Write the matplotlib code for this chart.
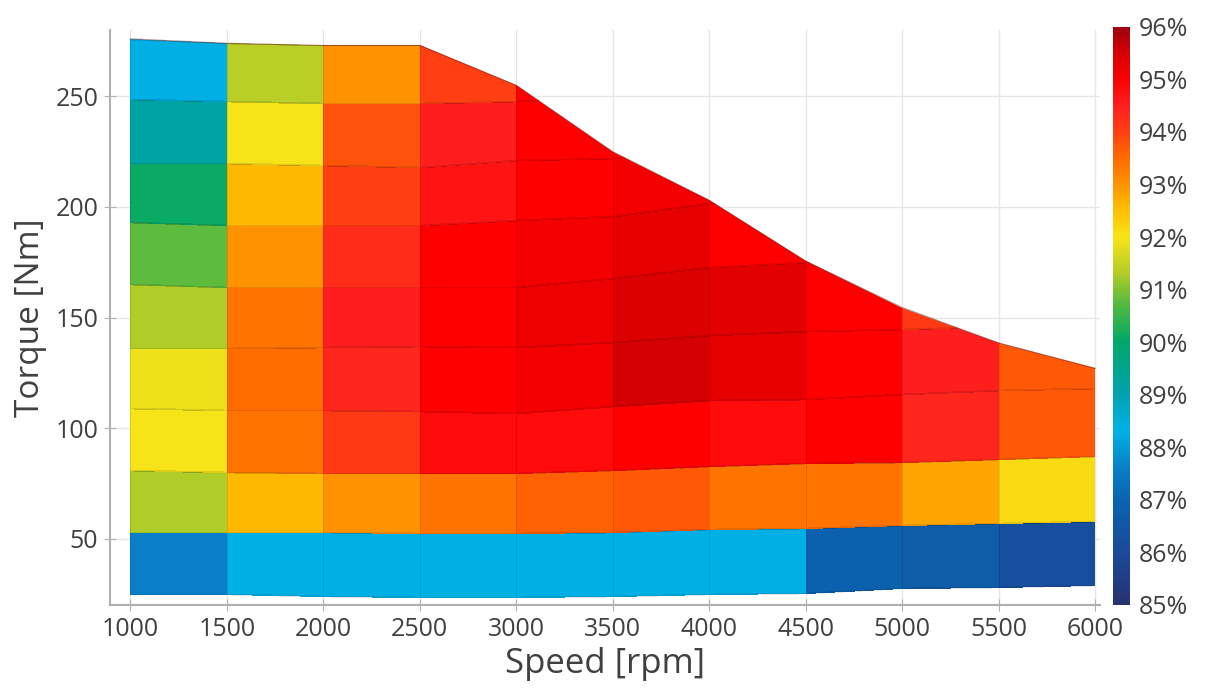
import matplotlib.pyplot as plt
import numpy as np
from matplotlib.colors import LinearSegmentedColormap
from matplotlib.patches import Polygon

plt.rcParams['font.family'] = ['Open Sans', 'DejaVu Sans']

# speed grid [rpm]
speeds = np.array([1000, 1500, 2000, 2500, 3000, 3500, 4000, 4500, 5000, 5500, 6000])

# maximum torque envelope [Nm] at each speed
t_max = np.array([276, 274, 273, 273, 255, 225, 203, 175.5, 154.5, 138.5, 127])

# torque nodes [Nm] at each speed (bottom -> top)
t_nodes = np.array([
    [25.0, 53.0, 81.0, 109.0, 136.0, 165.0, 193.0, 220.0, 249.0, 276.0],
    [25.0, 53.0, 80.0, 108.0, 136.0, 164.0, 192.0, 220.0, 248.0, 274.0],
    [24.0, 53.0, 79.5, 108.0, 136.5, 164.0, 192.0, 219.0, 247.0, 273.0],
    [23.5, 52.5, 79.5, 107.5, 137.0, 164.0, 192.0, 218.0, 247.0, 273.0],
    [23.5, 52.5, 79.5, 107.0, 136.5, 164.0, 194.0, 221.0, 248.0, 275.0],
    [24.0, 53.0, 81.0, 110.0, 139.0, 168.0, 196.0, 222.0, 250.0, 278.0],
    [25.0, 54.5, 83.0, 112.5, 142.0, 173.0, 202.0, 228.0, 255.0, 282.0],
    [25.5, 55.0, 84.0, 113.0, 144.0, 175.0, 205.0, 232.0, 260.0, 288.0],
    [27.5, 56.0, 84.5, 115.5, 145.0, 176.0, 207.0, 235.0, 263.0, 290.0],
    [28.0, 57.0, 86.0, 117.0, 146.0, 177.0, 208.0, 236.0, 264.0, 292.0],
    [29.0, 58.0, 87.5, 118.0, 147.0, 178.0, 209.0, 238.0, 266.0, 294.0],
])

# efficiency [%] per cell, one row per speed band (bottom -> top)
eff = np.array([
    [87.6, 91.3, 92.0, 91.9, 91.3, 90.8, 90.1, 89.2, 88.3],
    [88.3, 92.6, 93.4, 93.5, 93.4, 93.0, 92.6, 92.0, 91.4],
    [88.3, 93.0, 94.1, 94.4, 94.5, 94.3, 94.0, 93.8, 93.0],
    [88.3, 93.4, 94.8, 95.0, 95.0, 95.0, 94.7, 94.5, 94.0],
    [88.3, 93.6, 94.8, 95.1, 95.2, 95.1, 95.0, 95.0, 95.0],
    [88.3, 93.7, 95.0, 95.5, 95.4, 95.3, 95.1, 95.0, 95.0],
    [88.3, 93.4, 94.8, 95.3, 95.35, 95.0, 95.0, 95.0, 95.0],
    [86.9, 93.4, 95.0, 95.0, 95.0, 95.0, 95.0, 95.0, 95.0],
    [86.7, 92.8, 94.4, 94.5, 94.1, 94.1, 94.1, 94.1, 94.1],
    [86.2, 92.1, 93.7, 93.7, 93.7, 93.7, 93.7, 93.7, 93.7],
])

cb_ticks = np.arange(85, 97)

anchors = [
    (85.0, '#283270'), (86.0, '#1a4a9a'), (87.0, '#0a64b0'), (87.6, '#0880c8'),
    (88.3, '#00b2e6'), (89.0, '#00a2b0'), (90.0, '#00a86a'), (90.7, '#50b840'),
    (91.3, '#b0cc28'), (92.0, '#f8e418'), (92.6, '#ffb800'), (93.0, '#ff9400'),
    (93.5, '#ff6c00'), (94.0, '#ff4010'), (94.5, '#ff2020'), (95.0, '#ff0000'),
    (95.5, '#d80000'), (96.0, '#a00010'),
]
cmap = LinearSegmentedColormap.from_list(
    'eff', [((v - 85) / 11, c) for v, c in anchors])

fig = plt.figure(figsize=(12.08, 6.9), dpi=100)
ax = fig.add_axes([0.0911, 0.1232, 0.8195, 0.8333])
cax = fig.add_axes([0.9214, 0.1232, 0.0141, 0.838])

X = np.repeat(speeds[:, None], t_nodes.shape[1], axis=1)
mesh = ax.pcolormesh(X, t_nodes, eff, cmap=cmap, vmin=85, vmax=96,
                     shading='flat', edgecolors=(0, 0, 0, 0.10), linewidth=0.6,
                     zorder=2)

outline = list(zip(speeds, t_max)) + [(speeds[-1], 0), (speeds[0], 0)]
clip = Polygon(outline, closed=True, transform=ax.transData, facecolor='none',
               edgecolor='none')
ax.add_patch(clip)
mesh.set_clip_path(clip)
ax.plot(speeds, t_max, color='#6a2020', lw=0.8, alpha=0.5, zorder=3)

ax.set_xlim(895, 6025)
ax.set_ylim(20, 280)
ax.set_xticks(speeds)
ax.set_yticks([50, 100, 150, 200, 250])
ax.grid(True, color='#e6e6e6', lw=1, zorder=0)
ax.set_axisbelow(True)
for s in ['top', 'right']:
    ax.spines[s].set_visible(False)
for s in ['left', 'bottom']:
    ax.spines[s].set_color('#b0b0b0')
    ax.spines[s].set_linewidth(1.5)
ax.tick_params(direction='inout', length=9, color='#b0b0b0', labelsize=18,
               labelcolor='#404040', pad=4)
ax.set_xlabel('Speed [rpm]', fontsize=25, color='#404040', labelpad=4)
ax.set_ylabel('Torque [Nm]', fontsize=24, color='#404040', labelpad=6)

cbar = fig.colorbar(mesh, cax=cax, ticks=cb_ticks)
cbar.outline.set_visible(False)
cbar.ax.set_yticklabels([f'{t}%' for t in cb_ticks])
cbar.ax.tick_params(length=0, labelsize=18, labelcolor='#404040', pad=6)

fig.savefig('out.png', dpi=100)
